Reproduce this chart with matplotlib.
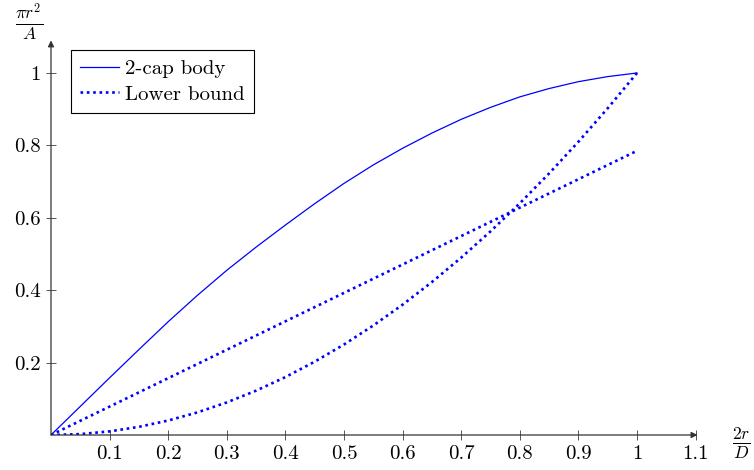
import numpy as np
import matplotlib.pyplot as plt

# values
x_cap = [0.0, 0.05, 0.1, 0.15, 0.2, 0.25, 0.3, 0.35, 0.4, 0.45, 0.5,
		 0.55, 0.6, 0.65, 0.7, 0.75, 0.8, 0.85, 0.9, 0.95, 1.0]
y_cap = [0.0, 0.079, 0.158, 0.236, 0.313, 0.386, 0.455, 0.519, 0.580, 0.639, 0.695,
		 0.746, 0.792, 0.834, 0.872, 0.905, 0.934, 0.957, 0.976, 0.990, 1.0]

x_lin = [0.0, 1.0]
y_lin = [0.0, 0.785]

x_par = [0.0, 0.05, 0.1, 0.15, 0.2, 0.25, 0.3, 0.35, 0.4, 0.45, 0.5,
		 0.55, 0.6, 0.65, 0.7, 0.75, 0.8, 0.85, 0.9, 0.95, 1.0]
y_par = [0.0, 0.0025, 0.01, 0.0225, 0.04, 0.0625, 0.09, 0.1225, 0.16, 0.2025, 0.25,
		 0.3025, 0.36, 0.4225, 0.49, 0.5625, 0.64, 0.7225, 0.81, 0.9025, 1.0]

xticks = [0.1, 0.2, 0.3, 0.4, 0.5, 0.6, 0.7, 0.8, 0.9, 1.0, 1.1]
xticklabels = ['0.1', '0.2', '0.3', '0.4', '0.5', '0.6', '0.7', '0.8', '0.9', '1', '1.1']
yticks = [0.2, 0.4, 0.6, 0.8, 1.0]
yticklabels = ['0.2', '0.4', '0.6', '0.8', '1']

plt.rcParams['font.family'] = 'serif'
plt.rcParams['font.serif'] = ['cmr10', 'DejaVu Serif']
plt.rcParams['mathtext.fontset'] = 'cm'
plt.rcParams['axes.formatter.use_mathtext'] = True

fs = 15

fig = plt.figure(figsize=(7.54, 4.70), dpi=100)
ax = fig.add_axes([51/754, 35/470, 644.6/754, 394.6/470])

ax.plot(x_cap, y_cap, color='blue', lw=0.9, label='2-cap body')
ax.plot(x_lin, y_lin, color='blue', lw=1.9, ls=(0, (1, 1.4)), label='Lower bound')
ax.plot(x_par, y_par, color='blue', lw=1.9, ls=(0, (1, 1.4)))

ax.set_xlim(0, 1.1)
ax.set_ylim(0, 1.09)

for s in ['top', 'right', 'left', 'bottom']:
	ax.spines[s].set_visible(False)
ax.annotate('', xy=(1.003, 0), xytext=(0, 0), xycoords='axes fraction',
			arrowprops=dict(arrowstyle='-|>', lw=0.9, color='#333333',
							mutation_scale=9, shrinkA=0, shrinkB=0))
ax.annotate('', xy=(0, 1.0), xytext=(0, 0), xycoords='axes fraction',
			arrowprops=dict(arrowstyle='-|>', lw=0.9, color='#333333',
							mutation_scale=9, shrinkA=0, shrinkB=0))

ax.set_xticks(xticks)
ax.set_xticklabels(xticklabels, fontsize=fs)
ax.set_yticks(yticks)
ax.set_yticklabels(yticklabels, fontsize=fs)
ax.tick_params(direction='inout', length=7, width=0.7, color='#555555', pad=4)

# axis labels
ax.text(-0.034, 1.045, r'$\frac{\pi r^2}{A}$', transform=ax.transAxes,
		fontsize=fs + 3, ha='center', va='center')
ax.text(1.071, -0.02, r'$\frac{2r}{D}$', transform=ax.transAxes,
		fontsize=fs + 3, ha='center', va='center')

leg = ax.legend(loc='upper left', bbox_to_anchor=(0.031, 0.976), fontsize=fs,
				fancybox=False, edgecolor='black', framealpha=1, borderaxespad=0,
				handlelength=1.85, handletextpad=0.3, labelspacing=0.35,
				borderpad=0.45)
leg.get_frame().set_linewidth(0.8)

fig.savefig('out.png', dpi=100)
